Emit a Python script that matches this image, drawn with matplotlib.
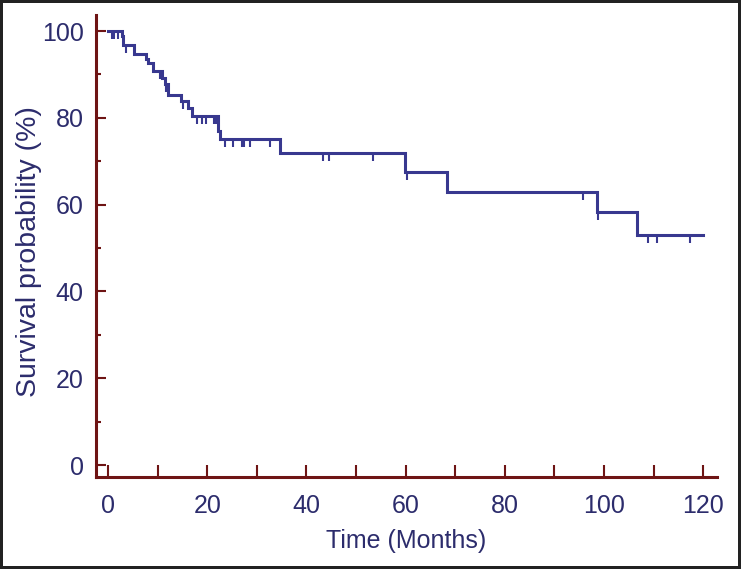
import numpy as np
import matplotlib
matplotlib.use("Agg")
import matplotlib.pyplot as plt
from matplotlib.ticker import MultipleLocator

# Kaplan-Meier step data (time in months, survival in %)
event_times = [0, 2.8, 3.1, 5.3, 7.6, 8.1, 9.0, 10.9, 11.5, 12.1, 14.7, 16.1,
               16.9, 22.2, 22.6, 34.7, 59.9, 68.4, 98.6, 106.7, 120]
survival = [100, 98.8, 96.8, 94.7, 93.6, 92.6, 90.9, 89.2, 87.9, 85.3, 83.9,
            82.3, 80.5, 77.0, 75.2, 71.9, 67.5, 63.0, 58.2, 53.0, 53.0]

# censored observations (time in months)
censor_times = [0.7, 1.3, 2.0, 3.6, 10.4, 10.7, 11.7, 15.1, 18.0, 19.0, 19.8,
                21.4, 21.7, 22.0, 23.6, 25.2, 27.0, 27.4, 28.6, 32.7, 43.4,
                44.6, 53.4, 60.3, 95.8, 98.8, 108.9, 110.7, 117.3]

x_ticks = [0, 20, 40, 60, 80, 100, 120]
y_ticks = [0, 20, 40, 60, 80, 100]

curve_color = "#38388f"
text_color = "#2c2c6c"
axis_color = "#6e1414"

plt.rcParams['font.family'] = ['Liberation Sans', 'DejaVu Sans']

fig = plt.figure(figsize=(7.41, 5.69), dpi=100, facecolor="white",
                 edgecolor="#222222", linewidth=4)
ax = fig.add_axes([0.1296, 0.1617, 0.9676 - 0.1296, 0.9736 - 0.1617])

ax.step(event_times, survival, where="post", color=curve_color, lw=2.2,
        solid_joinstyle="miter", zorder=3)

# survival level at each censor time from the step function
idx = np.searchsorted(event_times, censor_times, side="right") - 1
censor_surv = np.asarray(survival)[idx]
ax.plot(censor_times, censor_surv, linestyle="none", marker=3, markersize=6,
        markeredgewidth=1.5, color=curve_color, zorder=3)

ax.set_xlim(-2.42, 122.8)
ax.set_ylim(-2.76, 103.7)

for s in ("top", "right"):
    ax.spines[s].set_visible(False)
for s in ("left", "bottom"):
    ax.spines[s].set_color(axis_color)
    ax.spines[s].set_linewidth(2.2)

ax.set_xticks(x_ticks)
ax.xaxis.set_minor_locator(MultipleLocator(10))
ax.set_yticks(y_ticks)
ax.yaxis.set_minor_locator(MultipleLocator(10))

ax.tick_params(axis="x", which="both", direction="in", length=8.5, width=1.5,
               color=axis_color, labelcolor=text_color, labelsize=18, pad=12)
ax.tick_params(axis="y", which="major", direction="in", length=7.5, width=1.5,
               color=axis_color, labelcolor=text_color, labelsize=18, pad=9)
ax.tick_params(axis="y", which="minor", direction="in", length=3.8, width=1.5,
               color=axis_color)

ax.set_xlabel("Time (Months)", fontsize=18, color=text_color, labelpad=8)
ax.set_ylabel("Survival probability (%)", fontsize=20.5, color=text_color)
ax.yaxis.set_label_coords(-0.087, 0.489)

fig.savefig("out.png", dpi=100)
